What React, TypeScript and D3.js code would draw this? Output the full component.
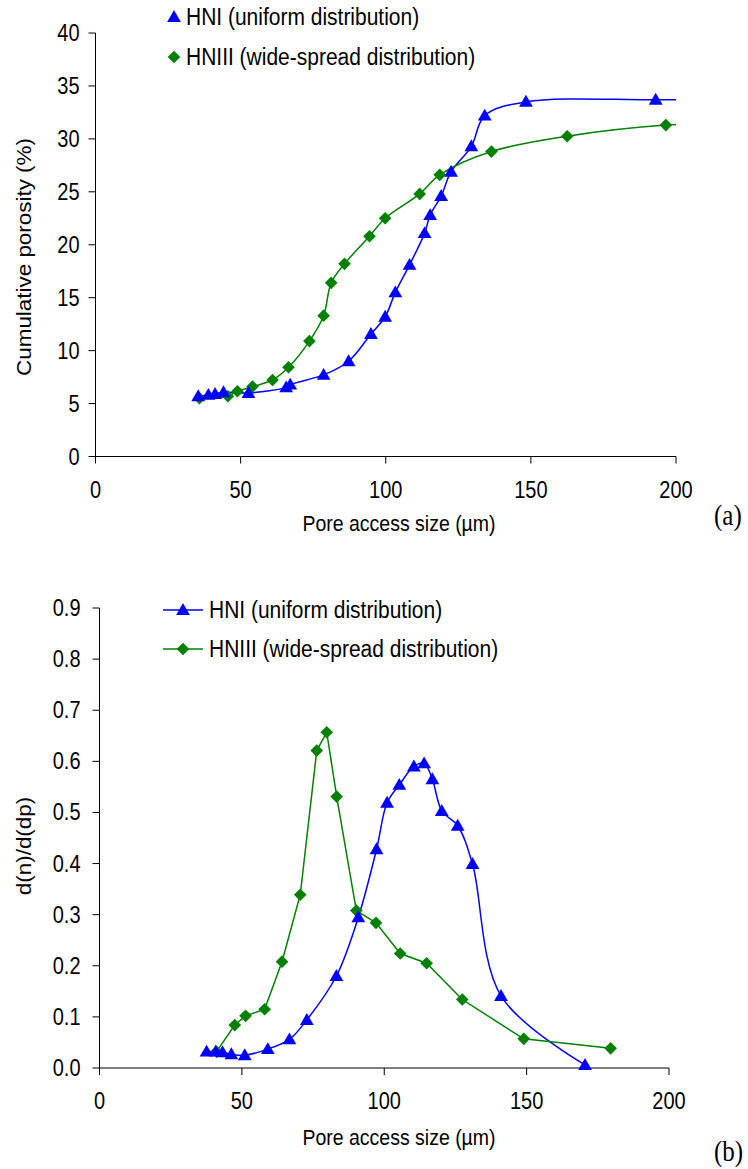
import React from "react";
import * as d3 from "d3";

// ---- Chart (a): cumulative porosity ----
const hniA_x = [35.4, 38.9, 41.2, 44.1, 52.7, 65.7, 67.1, 78.6, 87.2, 94.9, 99.8, 103.3, 108.2, 113.4, 115.3, 119.1, 122.5, 129.5, 134.1, 148.3, 193.0, 230];
const hniA_y = [5.69, 5.82, 5.91, 6.07, 6.0, 6.53, 6.79, 7.71, 9.0, 11.57, 13.2, 15.5, 18.1, 21.1, 22.8, 24.6, 26.9, 29.3, 32.2, 33.5, 33.7, 33.7];
const hniiiA_x = [35.8, 45.6, 48.9, 54.1, 61.0, 66.5, 73.7, 78.6, 81.2, 85.8, 94.4, 99.8, 111.7, 118.6, 136.4, 162.5, 196.5, 230];
const hniiiA_y = [5.5, 5.69, 6.16, 6.6, 7.23, 8.43, 10.9, 13.3, 16.4, 18.2, 20.8, 22.5, 24.8, 26.6, 28.8, 30.25, 31.3, 31.6];

// ---- Chart (b): d(n)/d(dp) ----
const hniB_x = [37.6, 40.8, 43.2, 46.3, 51.0, 59.1, 66.7, 72.8, 83.2, 90.9, 97.3, 101.0, 105.3, 110.4, 114.0, 116.9, 120.2, 125.8, 131.0, 141.0, 170.5];
const hniB_y = [0.032, 0.032, 0.031, 0.027, 0.025, 0.037, 0.056, 0.094, 0.18, 0.295, 0.428, 0.519, 0.554, 0.59, 0.596, 0.565, 0.503, 0.474, 0.399, 0.141, 0.006];
const hniiiB_x = [41.1, 47.5, 51.3, 58.0, 64.1, 70.5, 76.3, 79.8, 83.3, 90.2, 97.1, 105.6, 114.9, 127.4, 149.0, 179.5];
const hniiiB_y = [0.032, 0.084, 0.102, 0.115, 0.208, 0.339, 0.621, 0.657, 0.531, 0.308, 0.284, 0.224, 0.205, 0.134, 0.057, 0.0385];

const xTicks = [0, 50, 100, 150, 200];
const yTicksA = [0, 5, 10, 15, 20, 25, 30, 35, 40];
const yTicksB = [0, 0.1, 0.2, 0.3, 0.4, 0.5, 0.6, 0.7, 0.8, 0.9];

const seriesNames = ["HNI (uniform distribution)", "HNIII (wide-spread distribution)"];
const BLUE = "#0000ff";
const GREEN = "#008000";
const FONT = "Liberation Sans, Arial, sans-serif";
const STRETCH = 1.15;

type Pt = [number, number];
const zip = (xs: number[], ys: number[]): Pt[] => xs.map((x, i) => [x, ys[i]]);

const tri = d3.symbol().type(d3.symbolTriangle).size(82);
const dia = d3.symbol().type(d3.symbolSquare).size(80);

function T(props: { x: number; y: number; size: number; anchor?: string; rotate?: boolean; family?: string; children: React.ReactNode }) {
  const tf = props.rotate
    ? `translate(${props.x},${props.y}) rotate(-90) scale(${STRETCH},1)`
    : `translate(${props.x},${props.y}) scale(1,${STRETCH})`;
  return (
    <text transform={tf} dy="0.35em" textAnchor={props.anchor || "start"} fontSize={props.size} fontFamily={props.family || FONT} fill="#000">
      {props.children}
    </text>
  );
}

function Marker({ kind, x, y }: { kind: "tri" | "dia"; x: number; y: number }) {
  if (kind === "tri") {
    return <path d={tri() || ""} transform={`translate(${x},${y + 1})`} fill={BLUE} />;
  }
  return <path d={dia() || ""} transform={`translate(${x},${y}) rotate(45)`} fill={GREEN} />;
}

function Panel(props: {
  id: string;
  left: number; right: number; top: number; bottom: number;
  yMax: number; yTicks: number[]; yFmt: (v: number) => string; yLabelGap: number;
  yTitle: string; yTitleY: number;
  blue: Pt[]; green: Pt[]; blueSmooth: boolean; greenSmooth: boolean;
  legendX: number; legendY: number[]; legendLine: boolean; legendTextX: number;
  tag: string; tagY: number; tickLabelY: number; xTitleY: number;
}) {
  const p = props;
  const x = d3.scaleLinear().domain([0, 200]).range([p.left, p.right]);
  const y = d3.scaleLinear().domain([0, p.yMax]).range([p.bottom, p.top]);
  const mk = (smooth: boolean) =>
    d3.line<Pt>().x((d) => x(d[0])).y((d) => y(d[1])).curve(smooth ? d3.curveCatmullRom.alpha(0.5) : d3.curveLinear);
  const visible = (pts: Pt[]) => pts.filter((d) => d[0] <= 200);
  return (
    <g>
      <defs>
        <clipPath id={p.id}>
          <rect x={p.left} y={p.top - 20} width={p.right - p.left} height={p.bottom - p.top + 40} />
        </clipPath>
      </defs>
      <line x1={p.left} x2={p.left} y1={p.top} y2={p.bottom} stroke="#000" strokeWidth={1} />
      <line x1={p.left} x2={p.right} y1={p.bottom} y2={p.bottom} stroke="#000" strokeWidth={1} />
      {p.yTicks.map((t) => (
        <g key={"y" + t}>
          <line x1={p.left - 7} x2={p.left} y1={y(t)} y2={y(t)} stroke="#000" />
          <T x={p.left - p.yLabelGap} y={y(t)} size={20} anchor="end">{p.yFmt(t)}</T>
        </g>
      ))}
      {xTicks.map((t) => (
        <g key={"x" + t}>
          <line x1={x(t)} x2={x(t)} y1={p.bottom} y2={p.bottom + 7} stroke="#000" />
          <T x={x(t)} y={p.tickLabelY} size={20} anchor="middle">{t}</T>
        </g>
      ))}
      <T x={399} y={p.xTitleY} size={19.5} anchor="middle">Pore access size (µm)</T>
      <T x={24} y={p.yTitleY} size={19.5} anchor="middle" rotate>{p.yTitle}</T>
      <T x={714} y={p.tagY} size={25} family="Liberation Serif, Times New Roman, serif">{p.tag}</T>
      <g clipPath={`url(#${p.id})`}>
        <path d={mk(p.blueSmooth)(p.blue) || ""} fill="none" stroke={BLUE} strokeWidth={1.5} />
        <path d={mk(p.greenSmooth)(p.green) || ""} fill="none" stroke={GREEN} strokeWidth={1.5} />
      </g>
      {visible(p.green).map((d, i) => <Marker key={"g" + i} kind="dia" x={x(d[0])} y={y(d[1])} />)}
      {visible(p.blue).map((d, i) => <Marker key={"b" + i} kind="tri" x={x(d[0])} y={y(d[1])} />)}
      {seriesNames.map((name, i) => (
        <g key={name}>
          {p.legendLine && (
            <line x1={p.legendX - 20} x2={p.legendX + 20} y1={p.legendY[i]} y2={p.legendY[i]} stroke={i === 0 ? BLUE : GREEN} strokeWidth={1.5} />
          )}
          <Marker kind={i === 0 ? "tri" : "dia"} x={p.legendX} y={p.legendY[i]} />
          <T x={p.legendTextX} y={p.legendY[i]} size={21}>{name}</T>
        </g>
      ))}
    </g>
  );
}

export default function App() {
  return (
    <svg width={748} height={1169} style={{ position: "absolute", left: 0, top: 0, background: "#fff" }}>
      <rect width={748} height={1169} fill="#fff" />
      <Panel
        id="clipA" left={95.5} right={676} top={33} bottom={456.5}
        yMax={40} yTicks={yTicksA} yFmt={(v) => String(v)} yLabelGap={16}
        yTitle="Cumulative porosity (%)" yTitleY={257}
        blue={zip(hniA_x, hniA_y)} green={zip(hniiiA_x, hniiiA_y)} blueSmooth greenSmooth
        legendX={174} legendY={[17, 57]} legendLine={false} legendTextX={186}
        tag="(a)" tagY={515} tickLabelY={490} xTitleY={523}
      />
      <Panel
        id="clipB" left={99.5} right={669} top={608} bottom={1068}
        yMax={0.9} yTicks={yTicksB} yFmt={(v) => v.toFixed(1)} yLabelGap={19}
        yTitle="d(n)/d(dp)" yTitleY={846}
        blue={zip(hniB_x, hniB_y)} green={zip(hniiiB_x, hniiiB_y)} blueSmooth greenSmooth={false}
        legendX={183} legendY={[610, 649]} legendLine legendTextX={209}
        tag="(b)" tagY={1151} tickLabelY={1101} xTitleY={1137}
      />
    </svg>
  );
}
